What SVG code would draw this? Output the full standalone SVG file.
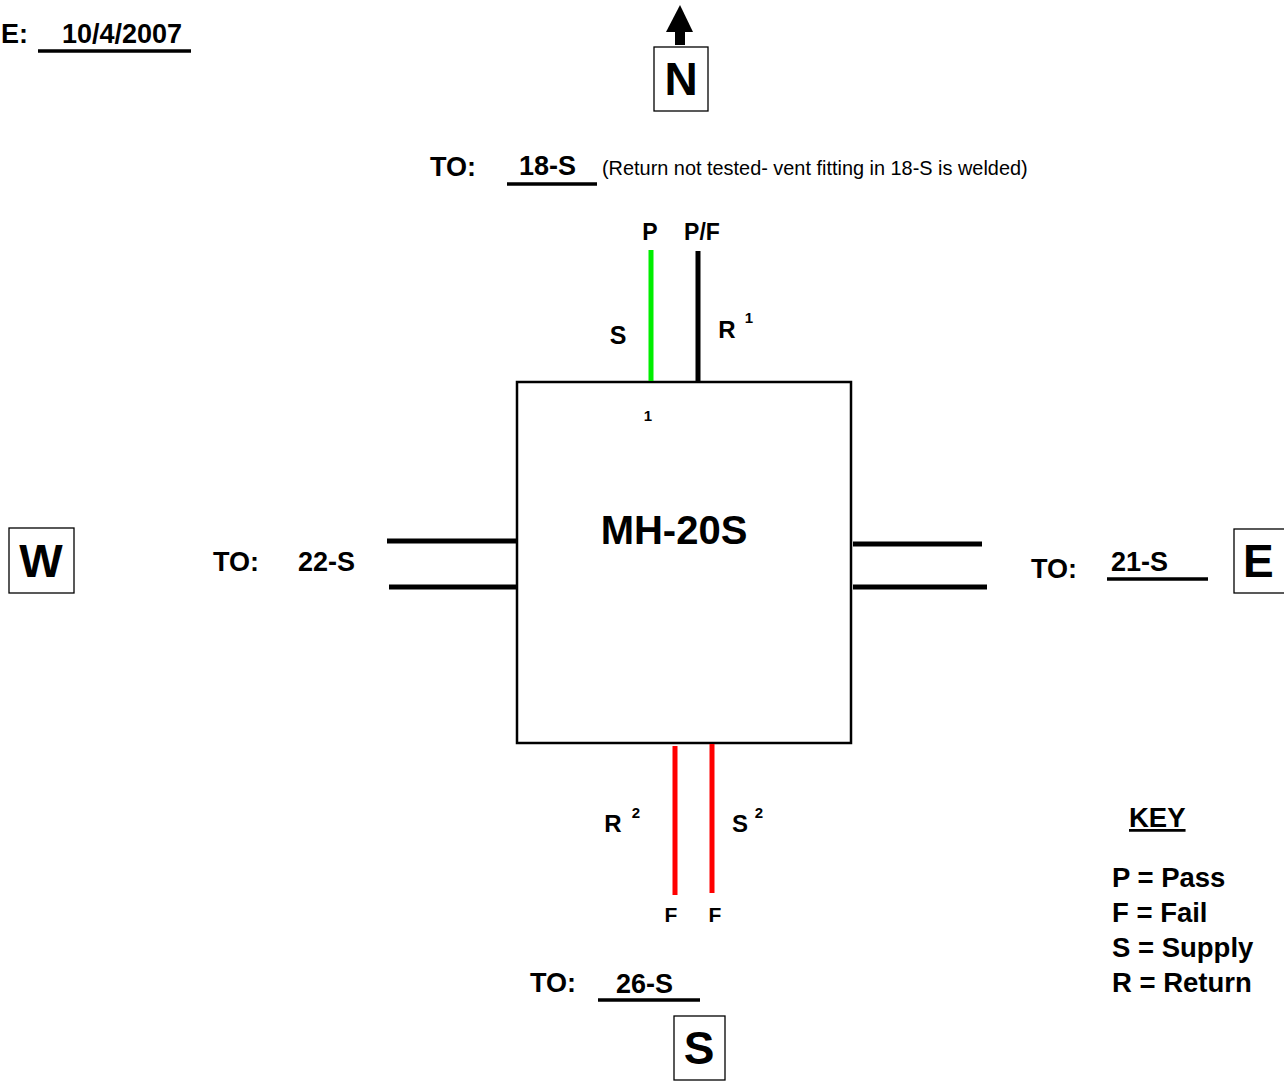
<svg xmlns="http://www.w3.org/2000/svg" width="1284" height="1081" viewBox="0 0 1284 1081">
<style>
text{font-family:"Liberation Sans",Arial,sans-serif;font-weight:bold;fill:#000}
.bx{fill:#fff;stroke:#000;stroke-width:1.3}
.pipe{stroke:#000;stroke-width:5;fill:none}
.ul{stroke:#000;stroke-width:3.5}
.lbl{font-size:27px}
.dir{font-size:46px}
.sm{font-size:23px}
.sup{font-size:15px}
.key{font-size:27.5px}
</style>
<rect width="1284" height="1081" fill="#fff"/>
<g id="date">
<text class="lbl" x="1" y="43">E:</text>
<text class="lbl" x="62" y="43">10/4/2007</text>
<line class="ul" x1="38" y1="51" x2="191" y2="51"/>
</g>
<g id="north">
<polygon points="680,5 693,32 666,32" fill="#000"/>
<rect x="675" y="31" width="10" height="14" fill="#000"/>
<rect class="bx" x="654" y="47" width="54" height="64"/>
<text class="dir" x="681" y="95" text-anchor="middle">N</text>
</g>
<g id="to-north">
<text class="lbl" x="430" y="176">TO:</text>
<text class="lbl" x="519" y="175">18-S</text>
<line class="ul" x1="507" y1="184" x2="597" y2="184"/>
<text x="602" y="175" style="font-weight:normal;font-size:19.9px">(Return not tested- vent fitting in 18-S is welded)</text>
</g>
<g id="MH-20S">
<rect x="517" y="382" width="334" height="361" fill="#fff" stroke="#000" stroke-width="2.5"/>
<text x="674" y="544" text-anchor="middle" style="font-size:40px">MH-20S</text>
<text x="648" y="421" text-anchor="middle" class="sup">1</text>
</g>
<g id="connectors">
<line x1="651" y1="250" x2="651" y2="381" stroke="#00ee00" stroke-width="5"/>
<line class="pipe" x1="698" y1="251" x2="698" y2="381"/>
<line class="pipe" x1="387" y1="541" x2="517" y2="541"/>
<line class="pipe" x1="389" y1="587" x2="517" y2="587"/>
<line class="pipe" x1="853" y1="544" x2="982" y2="544"/>
<line class="pipe" x1="853" y1="587" x2="987" y2="587"/>
<line x1="675" y1="746" x2="675" y2="895" stroke="#ff0000" stroke-width="5"/>
<line x1="712" y1="744" x2="712" y2="893" stroke="#ff0000" stroke-width="5"/>
</g>
<g id="top-labels">
<text class="sm" x="650" y="240" text-anchor="middle">P</text>
<text class="sm" x="702" y="240" text-anchor="middle">P/F</text>
<text x="618" y="344" text-anchor="middle" style="font-size:25px">S</text>
<text x="727" y="338" text-anchor="middle" style="font-size:24px">R</text>
<text class="sup" x="749" y="323" text-anchor="middle">1</text>
</g>
<g id="west">
<rect class="bx" x="9" y="528" width="65" height="65"/>
<text class="dir" x="41" y="577" text-anchor="middle">W</text>
<text class="lbl" x="213" y="571">TO:</text>
<text class="lbl" x="298" y="571">22-S</text>
</g>
<g id="east">
<text class="lbl" x="1031" y="578">TO:</text>
<text class="lbl" x="1111" y="571">21-S</text>
<line class="ul" x1="1107" y1="579" x2="1208" y2="579"/>
<rect class="bx" x="1234" y="529" width="60" height="64"/>
<text class="dir" x="1243" y="577">E</text>
</g>
<g id="south-labels">
<text x="613" y="832" text-anchor="middle" style="font-size:24px">R</text>
<text class="sup" x="636" y="818" text-anchor="middle">2</text>
<text x="740" y="832" text-anchor="middle" style="font-size:24px">S</text>
<text class="sup" x="759" y="818" text-anchor="middle">2</text>
<text x="671" y="922" text-anchor="middle" style="font-size:21px">F</text>
<text x="715" y="922" text-anchor="middle" style="font-size:21px">F</text>
</g>
<g id="south">
<text class="lbl" x="530" y="992">TO:</text>
<text class="lbl" x="616" y="993">26-S</text>
<line class="ul" x1="598" y1="1000" x2="700" y2="1000"/>
<rect class="bx" x="674" y="1016" width="51" height="64"/>
<text class="dir" x="699" y="1064" text-anchor="middle">S</text>
</g>
<g id="key">
<text class="key" x="1129" y="827" text-decoration="underline">KEY</text>
<text class="key" x="1112" y="887">P = Pass</text>
<text class="key" x="1112" y="922">F = Fail</text>
<text class="key" x="1112" y="957">S = Supply</text>
<text class="key" x="1112" y="992">R = Return</text>
</g>
</svg>
